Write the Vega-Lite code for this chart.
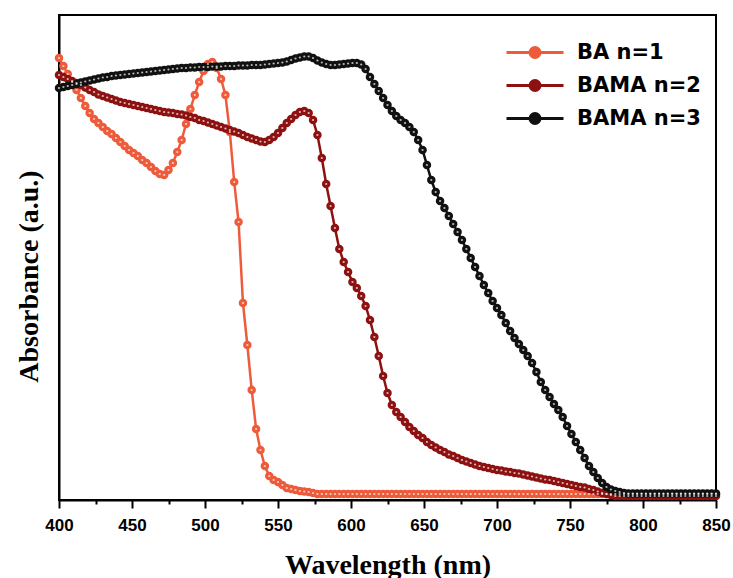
{
"$schema":"https://vega.github.io/schema/vega-lite/v6.json",
"width":657,"height":485,"autosize":"none",
"padding":{"left":59,"top":15,"right":17,"bottom":78},
"background":"white",
"config":{"view":{"stroke":"black","strokeWidth":2}},
"data":{"values":[
{"s":"BA n=1","x":400,"y":4.42},{"s":"BA n=1","x":403,"y":4.34},{"s":"BA n=1","x":406,"y":4.26},{"s":"BA n=1","x":409,"y":4.18},{"s":"BA n=1","x":412,"y":4.10},{"s":"BA n=1","x":415,"y":4.02},{"s":"BA n=1","x":418,"y":3.94},{"s":"BA n=1","x":421,"y":3.87},{"s":"BA n=1","x":424,"y":3.81},{"s":"BA n=1","x":427,"y":3.77},{"s":"BA n=1","x":430,"y":3.73},{"s":"BA n=1","x":433,"y":3.69},{"s":"BA n=1","x":436,"y":3.66},{"s":"BA n=1","x":439,"y":3.62},{"s":"BA n=1","x":442,"y":3.58},{"s":"BA n=1","x":445,"y":3.54},{"s":"BA n=1","x":448,"y":3.50},{"s":"BA n=1","x":451,"y":3.47},{"s":"BA n=1","x":454,"y":3.44},{"s":"BA n=1","x":457,"y":3.40},{"s":"BA n=1","x":460,"y":3.37},{"s":"BA n=1","x":463,"y":3.33},{"s":"BA n=1","x":466,"y":3.29},{"s":"BA n=1","x":469,"y":3.26},{"s":"BA n=1","x":472,"y":3.25},{"s":"BA n=1","x":475,"y":3.30},{"s":"BA n=1","x":478,"y":3.37},{"s":"BA n=1","x":481,"y":3.48},{"s":"BA n=1","x":484,"y":3.60},{"s":"BA n=1","x":487,"y":3.76},{"s":"BA n=1","x":490,"y":3.91},{"s":"BA n=1","x":493,"y":4.05},{"s":"BA n=1","x":496,"y":4.18},{"s":"BA n=1","x":499,"y":4.29},{"s":"BA n=1","x":502,"y":4.36},{"s":"BA n=1","x":505,"y":4.38},{"s":"BA n=1","x":508,"y":4.32},{"s":"BA n=1","x":511,"y":4.21},{"s":"BA n=1","x":514,"y":4.05},{"s":"BA n=1","x":517,"y":3.68},{"s":"BA n=1","x":520,"y":3.18},{"s":"BA n=1","x":523,"y":2.78},{"s":"BA n=1","x":526,"y":1.97},{"s":"BA n=1","x":529,"y":1.55},{"s":"BA n=1","x":532,"y":1.10},{"s":"BA n=1","x":535,"y":0.71},{"s":"BA n=1","x":538,"y":0.50},{"s":"BA n=1","x":541,"y":0.34},{"s":"BA n=1","x":544,"y":0.24},{"s":"BA n=1","x":547,"y":0.20},{"s":"BA n=1","x":550,"y":0.18},{"s":"BA n=1","x":553,"y":0.15},{"s":"BA n=1","x":556,"y":0.12},{"s":"BA n=1","x":559,"y":0.11},{"s":"BA n=1","x":562,"y":0.10},{"s":"BA n=1","x":565,"y":0.09},{"s":"BA n=1","x":568,"y":0.085},{"s":"BA n=1","x":571,"y":0.08},{"s":"BA n=1","x":574,"y":0.07},
{"s":"BA n=1","x":577,"y":0.06},{"s":"BA n=1","x":580,"y":0.06},{"s":"BA n=1","x":583,"y":0.06},{"s":"BA n=1","x":586,"y":0.06},{"s":"BA n=1","x":589,"y":0.06},{"s":"BA n=1","x":592,"y":0.06},{"s":"BA n=1","x":595,"y":0.06},{"s":"BA n=1","x":598,"y":0.06},{"s":"BA n=1","x":601,"y":0.06},{"s":"BA n=1","x":604,"y":0.06},{"s":"BA n=1","x":607,"y":0.06},{"s":"BA n=1","x":610,"y":0.06},{"s":"BA n=1","x":613,"y":0.06},{"s":"BA n=1","x":616,"y":0.06},{"s":"BA n=1","x":619,"y":0.06},{"s":"BA n=1","x":622,"y":0.06},{"s":"BA n=1","x":625,"y":0.06},{"s":"BA n=1","x":628,"y":0.06},{"s":"BA n=1","x":631,"y":0.06},{"s":"BA n=1","x":634,"y":0.06},{"s":"BA n=1","x":637,"y":0.06},{"s":"BA n=1","x":640,"y":0.06},{"s":"BA n=1","x":643,"y":0.06},{"s":"BA n=1","x":646,"y":0.06},{"s":"BA n=1","x":649,"y":0.06},{"s":"BA n=1","x":652,"y":0.06},{"s":"BA n=1","x":655,"y":0.06},{"s":"BA n=1","x":658,"y":0.06},{"s":"BA n=1","x":661,"y":0.06},{"s":"BA n=1","x":664,"y":0.06},{"s":"BA n=1","x":667,"y":0.06},{"s":"BA n=1","x":670,"y":0.06},{"s":"BA n=1","x":673,"y":0.06},{"s":"BA n=1","x":676,"y":0.06},{"s":"BA n=1","x":679,"y":0.06},{"s":"BA n=1","x":682,"y":0.06},{"s":"BA n=1","x":685,"y":0.06},{"s":"BA n=1","x":688,"y":0.06},{"s":"BA n=1","x":691,"y":0.06},{"s":"BA n=1","x":694,"y":0.06},{"s":"BA n=1","x":697,"y":0.06},{"s":"BA n=1","x":700,"y":0.06},{"s":"BA n=1","x":703,"y":0.06},{"s":"BA n=1","x":706,"y":0.06},{"s":"BA n=1","x":709,"y":0.06},{"s":"BA n=1","x":712,"y":0.06},{"s":"BA n=1","x":715,"y":0.06},{"s":"BA n=1","x":718,"y":0.06},{"s":"BA n=1","x":721,"y":0.06},{"s":"BA n=1","x":724,"y":0.06},{"s":"BA n=1","x":727,"y":0.06},{"s":"BA n=1","x":730,"y":0.06},{"s":"BA n=1","x":733,"y":0.06},{"s":"BA n=1","x":736,"y":0.06},{"s":"BA n=1","x":739,"y":0.06},{"s":"BA n=1","x":742,"y":0.06},{"s":"BA n=1","x":745,"y":0.06},{"s":"BA n=1","x":748,"y":0.06},{"s":"BA n=1","x":751,"y":0.06},{"s":"BA n=1","x":754,"y":0.06},{"s":"BA n=1","x":757,"y":0.06},{"s":"BA n=1","x":760,"y":0.06},{"s":"BA n=1","x":763,"y":0.06},{"s":"BA n=1","x":766,"y":0.06},{"s":"BA n=1","x":769,"y":0.06},{"s":"BA n=1","x":772,"y":0.06},{"s":"BA n=1","x":775,"y":0.06},{"s":"BA n=1","x":778,"y":0.06},{"s":"BA n=1","x":781,"y":0.06},{"s":"BA n=1","x":784,"y":0.06},{"s":"BA n=1","x":787,"y":0.06},{"s":"BA n=1","x":790,"y":0.06},{"s":"BA n=1","x":793,"y":0.06},{"s":"BA n=1","x":796,"y":0.06},{"s":"BA n=1","x":799,"y":0.06},{"s":"BA n=1","x":802,"y":0.06},{"s":"BA n=1","x":805,"y":0.06},{"s":"BA n=1","x":808,"y":0.06},{"s":"BA n=1","x":811,"y":0.06},{"s":"BA n=1","x":814,"y":0.06},{"s":"BA n=1","x":817,"y":0.06},{"s":"BA n=1","x":820,"y":0.06},{"s":"BA n=1","x":823,"y":0.06},{"s":"BA n=1","x":826,"y":0.06},{"s":"BA n=1","x":829,"y":0.06},{"s":"BA n=1","x":832,"y":0.06},{"s":"BA n=1","x":835,"y":0.06},{"s":"BA n=1","x":838,"y":0.06},{"s":"BA n=1","x":841,"y":0.06},{"s":"BA n=1","x":844,"y":0.06},{"s":"BA n=1","x":847,"y":0.06},{"s":"BA n=1","x":850,"y":0.06},
{"s":"BAMA n=2","x":400,"y":4.25},{"s":"BAMA n=2","x":403,"y":4.23},{"s":"BAMA n=2","x":406,"y":4.21},{"s":"BAMA n=2","x":409,"y":4.19},{"s":"BAMA n=2","x":412,"y":4.17},{"s":"BAMA n=2","x":415,"y":4.15},{"s":"BAMA n=2","x":418,"y":4.125},{"s":"BAMA n=2","x":421,"y":4.10},{"s":"BAMA n=2","x":424,"y":4.08},{"s":"BAMA n=2","x":427,"y":4.055},{"s":"BAMA n=2","x":430,"y":4.04},{"s":"BAMA n=2","x":433,"y":4.025},{"s":"BAMA n=2","x":436,"y":4.01},{"s":"BAMA n=2","x":439,"y":3.995},{"s":"BAMA n=2","x":442,"y":3.98},{"s":"BAMA n=2","x":445,"y":3.97},{"s":"BAMA n=2","x":448,"y":3.96},{"s":"BAMA n=2","x":451,"y":3.95},{"s":"BAMA n=2","x":454,"y":3.94},{"s":"BAMA n=2","x":457,"y":3.93},{"s":"BAMA n=2","x":460,"y":3.92},{"s":"BAMA n=2","x":463,"y":3.91},{"s":"BAMA n=2","x":466,"y":3.90},{"s":"BAMA n=2","x":469,"y":3.89},{"s":"BAMA n=2","x":472,"y":3.88},{"s":"BAMA n=2","x":475,"y":3.875},{"s":"BAMA n=2","x":478,"y":3.87},{"s":"BAMA n=2","x":481,"y":3.86},{"s":"BAMA n=2","x":484,"y":3.855},{"s":"BAMA n=2","x":487,"y":3.845},{"s":"BAMA n=2","x":490,"y":3.83},{"s":"BAMA n=2","x":493,"y":3.82},{"s":"BAMA n=2","x":496,"y":3.80},{"s":"BAMA n=2","x":499,"y":3.79},{"s":"BAMA n=2","x":502,"y":3.775},{"s":"BAMA n=2","x":505,"y":3.76},{"s":"BAMA n=2","x":508,"y":3.745},{"s":"BAMA n=2","x":511,"y":3.73},{"s":"BAMA n=2","x":514,"y":3.715},{"s":"BAMA n=2","x":517,"y":3.70},{"s":"BAMA n=2","x":520,"y":3.685},{"s":"BAMA n=2","x":523,"y":3.67},{"s":"BAMA n=2","x":526,"y":3.65},{"s":"BAMA n=2","x":529,"y":3.63},{"s":"BAMA n=2","x":532,"y":3.615},{"s":"BAMA n=2","x":535,"y":3.60},{"s":"BAMA n=2","x":538,"y":3.585},{"s":"BAMA n=2","x":541,"y":3.58},{"s":"BAMA n=2","x":544,"y":3.60},{"s":"BAMA n=2","x":547,"y":3.63},{"s":"BAMA n=2","x":550,"y":3.67},{"s":"BAMA n=2","x":553,"y":3.72},{"s":"BAMA n=2","x":556,"y":3.77},{"s":"BAMA n=2","x":559,"y":3.81},{"s":"BAMA n=2","x":562,"y":3.85},{"s":"BAMA n=2","x":565,"y":3.88},{"s":"BAMA n=2","x":568,"y":3.89},{"s":"BAMA n=2","x":571,"y":3.87},{"s":"BAMA n=2","x":574,"y":3.80},{"s":"BAMA n=2","x":577,"y":3.65},{"s":"BAMA n=2","x":580,"y":3.42},{"s":"BAMA n=2","x":583,"y":3.16},{"s":"BAMA n=2","x":586,"y":2.94},{"s":"BAMA n=2","x":589,"y":2.72},{"s":"BAMA n=2","x":592,"y":2.51},{"s":"BAMA n=2","x":595,"y":2.38},{"s":"BAMA n=2","x":598,"y":2.28},{"s":"BAMA n=2","x":601,"y":2.18},{"s":"BAMA n=2","x":604,"y":2.12},{"s":"BAMA n=2","x":607,"y":2.04},{"s":"BAMA n=2","x":610,"y":1.94},{"s":"BAMA n=2","x":613,"y":1.80},{"s":"BAMA n=2","x":616,"y":1.63},{"s":"BAMA n=2","x":619,"y":1.44},{"s":"BAMA n=2","x":622,"y":1.24},{"s":"BAMA n=2","x":625,"y":1.07},{"s":"BAMA n=2","x":628,"y":0.95},{"s":"BAMA n=2","x":631,"y":0.88},{"s":"BAMA n=2","x":634,"y":0.83},{"s":"BAMA n=2","x":637,"y":0.78},{"s":"BAMA n=2","x":640,"y":0.73},{"s":"BAMA n=2","x":643,"y":0.69},{"s":"BAMA n=2","x":646,"y":0.65},{"s":"BAMA n=2","x":649,"y":0.62},{"s":"BAMA n=2","x":652,"y":0.58},{"s":"BAMA n=2","x":655,"y":0.55},{"s":"BAMA n=2","x":658,"y":0.525},{"s":"BAMA n=2","x":661,"y":0.50},{"s":"BAMA n=2","x":664,"y":0.48},{"s":"BAMA n=2","x":667,"y":0.455},{"s":"BAMA n=2","x":670,"y":0.44},{"s":"BAMA n=2","x":673,"y":0.42},{"s":"BAMA n=2","x":676,"y":0.40},{"s":"BAMA n=2","x":679,"y":0.385},{"s":"BAMA n=2","x":682,"y":0.37},{"s":"BAMA n=2","x":685,"y":0.355},{"s":"BAMA n=2","x":688,"y":0.34},{"s":"BAMA n=2","x":691,"y":0.33},{"s":"BAMA n=2","x":694,"y":0.32},{"s":"BAMA n=2","x":697,"y":0.31},{"s":"BAMA n=2","x":700,"y":0.30},{"s":"BAMA n=2","x":703,"y":0.295},{"s":"BAMA n=2","x":706,"y":0.285},{"s":"BAMA n=2","x":709,"y":0.28},{"s":"BAMA n=2","x":712,"y":0.27},{"s":"BAMA n=2","x":715,"y":0.265},{"s":"BAMA n=2","x":718,"y":0.255},{"s":"BAMA n=2","x":721,"y":0.245},{"s":"BAMA n=2","x":724,"y":0.235},{"s":"BAMA n=2","x":727,"y":0.225},{"s":"BAMA n=2","x":730,"y":0.215},{"s":"BAMA n=2","x":733,"y":0.205},{"s":"BAMA n=2","x":736,"y":0.20},{"s":"BAMA n=2","x":739,"y":0.19},{"s":"BAMA n=2","x":742,"y":0.18},{"s":"BAMA n=2","x":745,"y":0.17},{"s":"BAMA n=2","x":748,"y":0.16},{"s":"BAMA n=2","x":751,"y":0.15},{"s":"BAMA n=2","x":754,"y":0.14},{"s":"BAMA n=2","x":757,"y":0.13},{"s":"BAMA n=2","x":760,"y":0.125},{"s":"BAMA n=2","x":763,"y":0.11},{"s":"BAMA n=2","x":766,"y":0.10},{"s":"BAMA n=2","x":769,"y":0.085},{"s":"BAMA n=2","x":772,"y":0.07},{"s":"BAMA n=2","x":775,"y":0.06},{"s":"BAMA n=2","x":778,"y":0.05},{"s":"BAMA n=2","x":781,"y":0.04},{"s":"BAMA n=2","x":784,"y":0.04},{"s":"BAMA n=2","x":787,"y":0.04},{"s":"BAMA n=2","x":790,"y":0.04},{"s":"BAMA n=2","x":793,"y":0.04},{"s":"BAMA n=2","x":796,"y":0.04},{"s":"BAMA n=2","x":799,"y":0.04},{"s":"BAMA n=2","x":802,"y":0.04},{"s":"BAMA n=2","x":805,"y":0.04},{"s":"BAMA n=2","x":808,"y":0.04},{"s":"BAMA n=2","x":811,"y":0.04},{"s":"BAMA n=2","x":814,"y":0.04},{"s":"BAMA n=2","x":817,"y":0.04},{"s":"BAMA n=2","x":820,"y":0.04},{"s":"BAMA n=2","x":823,"y":0.04},{"s":"BAMA n=2","x":826,"y":0.04},{"s":"BAMA n=2","x":829,"y":0.04},{"s":"BAMA n=2","x":832,"y":0.04},{"s":"BAMA n=2","x":835,"y":0.04},{"s":"BAMA n=2","x":838,"y":0.04},{"s":"BAMA n=2","x":841,"y":0.04},{"s":"BAMA n=2","x":844,"y":0.04},{"s":"BAMA n=2","x":847,"y":0.04},{"s":"BAMA n=2","x":850,"y":0.04},
{"s":"BAMA n=3","x":400,"y":4.12},{"s":"BAMA n=3","x":403,"y":4.13},{"s":"BAMA n=3","x":406,"y":4.14},{"s":"BAMA n=3","x":409,"y":4.15},{"s":"BAMA n=3","x":412,"y":4.16},{"s":"BAMA n=3","x":415,"y":4.175},{"s":"BAMA n=3","x":418,"y":4.185},{"s":"BAMA n=3","x":421,"y":4.195},{"s":"BAMA n=3","x":424,"y":4.205},{"s":"BAMA n=3","x":427,"y":4.215},{"s":"BAMA n=3","x":430,"y":4.225},{"s":"BAMA n=3","x":433,"y":4.23},{"s":"BAMA n=3","x":436,"y":4.24},{"s":"BAMA n=3","x":439,"y":4.245},{"s":"BAMA n=3","x":442,"y":4.25},{"s":"BAMA n=3","x":445,"y":4.255},{"s":"BAMA n=3","x":448,"y":4.26},{"s":"BAMA n=3","x":451,"y":4.265},{"s":"BAMA n=3","x":454,"y":4.27},{"s":"BAMA n=3","x":457,"y":4.275},{"s":"BAMA n=3","x":460,"y":4.28},{"s":"BAMA n=3","x":463,"y":4.285},{"s":"BAMA n=3","x":466,"y":4.29},{"s":"BAMA n=3","x":469,"y":4.295},{"s":"BAMA n=3","x":472,"y":4.30},{"s":"BAMA n=3","x":475,"y":4.305},{"s":"BAMA n=3","x":478,"y":4.31},{"s":"BAMA n=3","x":481,"y":4.315},{"s":"BAMA n=3","x":484,"y":4.32},{"s":"BAMA n=3","x":487,"y":4.32},{"s":"BAMA n=3","x":490,"y":4.325},{"s":"BAMA n=3","x":493,"y":4.325},{"s":"BAMA n=3","x":496,"y":4.33},{"s":"BAMA n=3","x":499,"y":4.33},{"s":"BAMA n=3","x":502,"y":4.33},{"s":"BAMA n=3","x":505,"y":4.335},{"s":"BAMA n=3","x":508,"y":4.335},{"s":"BAMA n=3","x":511,"y":4.335},{"s":"BAMA n=3","x":514,"y":4.34},{"s":"BAMA n=3","x":517,"y":4.34},{"s":"BAMA n=3","x":520,"y":4.34},{"s":"BAMA n=3","x":523,"y":4.345},{"s":"BAMA n=3","x":526,"y":4.345},{"s":"BAMA n=3","x":529,"y":4.345},{"s":"BAMA n=3","x":532,"y":4.35},{"s":"BAMA n=3","x":535,"y":4.35},{"s":"BAMA n=3","x":538,"y":4.35},{"s":"BAMA n=3","x":541,"y":4.355},{"s":"BAMA n=3","x":544,"y":4.36},{"s":"BAMA n=3","x":547,"y":4.365},{"s":"BAMA n=3","x":550,"y":4.37},{"s":"BAMA n=3","x":553,"y":4.375},{"s":"BAMA n=3","x":556,"y":4.385},{"s":"BAMA n=3","x":559,"y":4.40},{"s":"BAMA n=3","x":562,"y":4.415},{"s":"BAMA n=3","x":565,"y":4.425},{"s":"BAMA n=3","x":568,"y":4.435},{"s":"BAMA n=3","x":571,"y":4.435},{"s":"BAMA n=3","x":574,"y":4.42},{"s":"BAMA n=3","x":577,"y":4.395},{"s":"BAMA n=3","x":580,"y":4.375},{"s":"BAMA n=3","x":583,"y":4.36},{"s":"BAMA n=3","x":586,"y":4.35},{"s":"BAMA n=3","x":589,"y":4.35},{"s":"BAMA n=3","x":592,"y":4.355},{"s":"BAMA n=3","x":595,"y":4.36},{"s":"BAMA n=3","x":598,"y":4.365},{"s":"BAMA n=3","x":601,"y":4.37},{"s":"BAMA n=3","x":604,"y":4.37},{"s":"BAMA n=3","x":607,"y":4.355},{"s":"BAMA n=3","x":610,"y":4.31},{"s":"BAMA n=3","x":613,"y":4.23},{"s":"BAMA n=3","x":616,"y":4.16},{"s":"BAMA n=3","x":619,"y":4.09},{"s":"BAMA n=3","x":622,"y":4.02},{"s":"BAMA n=3","x":625,"y":3.95},{"s":"BAMA n=3","x":628,"y":3.89},{"s":"BAMA n=3","x":631,"y":3.84},{"s":"BAMA n=3","x":634,"y":3.80},{"s":"BAMA n=3","x":637,"y":3.77},{"s":"BAMA n=3","x":640,"y":3.73},{"s":"BAMA n=3","x":643,"y":3.68},{"s":"BAMA n=3","x":646,"y":3.60},{"s":"BAMA n=3","x":649,"y":3.50},{"s":"BAMA n=3","x":652,"y":3.35},{"s":"BAMA n=3","x":655,"y":3.20},{"s":"BAMA n=3","x":658,"y":3.08},{"s":"BAMA n=3","x":661,"y":2.99},{"s":"BAMA n=3","x":664,"y":2.92},{"s":"BAMA n=3","x":667,"y":2.84},{"s":"BAMA n=3","x":670,"y":2.76},{"s":"BAMA n=3","x":673,"y":2.68},{"s":"BAMA n=3","x":676,"y":2.60},{"s":"BAMA n=3","x":679,"y":2.51},{"s":"BAMA n=3","x":682,"y":2.42},{"s":"BAMA n=3","x":685,"y":2.33},{"s":"BAMA n=3","x":688,"y":2.24},{"s":"BAMA n=3","x":691,"y":2.15},{"s":"BAMA n=3","x":694,"y":2.07},{"s":"BAMA n=3","x":697,"y":1.99},{"s":"BAMA n=3","x":700,"y":1.92},{"s":"BAMA n=3","x":703,"y":1.85},{"s":"BAMA n=3","x":706,"y":1.77},{"s":"BAMA n=3","x":709,"y":1.69},{"s":"BAMA n=3","x":712,"y":1.62},{"s":"BAMA n=3","x":715,"y":1.56},{"s":"BAMA n=3","x":718,"y":1.50},{"s":"BAMA n=3","x":721,"y":1.44},{"s":"BAMA n=3","x":724,"y":1.37},{"s":"BAMA n=3","x":727,"y":1.28},{"s":"BAMA n=3","x":730,"y":1.18},{"s":"BAMA n=3","x":733,"y":1.10},{"s":"BAMA n=3","x":736,"y":1.03},{"s":"BAMA n=3","x":739,"y":0.96},{"s":"BAMA n=3","x":742,"y":0.90},{"s":"BAMA n=3","x":745,"y":0.83},{"s":"BAMA n=3","x":748,"y":0.74},{"s":"BAMA n=3","x":751,"y":0.66},{"s":"BAMA n=3","x":754,"y":0.58},{"s":"BAMA n=3","x":757,"y":0.50},{"s":"BAMA n=3","x":760,"y":0.42},{"s":"BAMA n=3","x":763,"y":0.34},{"s":"BAMA n=3","x":766,"y":0.28},{"s":"BAMA n=3","x":769,"y":0.22},{"s":"BAMA n=3","x":772,"y":0.17},{"s":"BAMA n=3","x":775,"y":0.13},{"s":"BAMA n=3","x":778,"y":0.105},{"s":"BAMA n=3","x":781,"y":0.09},{"s":"BAMA n=3","x":784,"y":0.08},{"s":"BAMA n=3","x":787,"y":0.07},{"s":"BAMA n=3","x":790,"y":0.065},{"s":"BAMA n=3","x":793,"y":0.065},{"s":"BAMA n=3","x":796,"y":0.065},{"s":"BAMA n=3","x":799,"y":0.065},{"s":"BAMA n=3","x":802,"y":0.065},{"s":"BAMA n=3","x":805,"y":0.065},{"s":"BAMA n=3","x":808,"y":0.065},{"s":"BAMA n=3","x":811,"y":0.065},{"s":"BAMA n=3","x":814,"y":0.065},{"s":"BAMA n=3","x":817,"y":0.065},{"s":"BAMA n=3","x":820,"y":0.065},{"s":"BAMA n=3","x":823,"y":0.065},{"s":"BAMA n=3","x":826,"y":0.065},{"s":"BAMA n=3","x":829,"y":0.065},{"s":"BAMA n=3","x":832,"y":0.065},{"s":"BAMA n=3","x":835,"y":0.065},{"s":"BAMA n=3","x":838,"y":0.065},{"s":"BAMA n=3","x":841,"y":0.065},{"s":"BAMA n=3","x":844,"y":0.065},{"s":"BAMA n=3","x":847,"y":0.065},{"s":"BAMA n=3","x":850,"y":0.065}
]},
"layer":[
{"encoding":{
"x":{"field":"x","type":"quantitative","scale":{"domain":[400,850],"nice":false},
"axis":{"orient":"bottom","values":[400,450,500,550,600,650,700,750,800,850],"grid":false,"tickSize":8,"tickWidth":2,"tickColor":"black","domainColor":"black","domainWidth":2,"labelFont":"Liberation Sans","labelFontWeight":"bold","labelFontSize":17,"labelColor":"black","labelBaseline":"alphabetic","labelPadding":22,"labelFlush":false,"title":"Wavelength (nm)","titleFont":"Liberation Serif","titleFontSize":28,"titleFontWeight":"bold","titleColor":"black","titleBaseline":"alphabetic","titleY":73}},
"y":{"field":"y","type":"quantitative","scale":{"domain":[0,4.85],"nice":false,"zero":false},
"axis":{"ticks":false,"labels":false,"grid":false,"domainColor":"black","domainWidth":2,"title":"Absorbance (a.u.)","titleFont":"Liberation Serif","titleFontSize":28,"titleFontWeight":"bold","titleColor":"black","titleBaseline":"alphabetic","titleX":-22,"titleY":261}}},
"layer":[
{"mark":{"type":"line","strokeWidth":2.5},
"encoding":{"color":{"field":"s","type":"nominal","scale":{"domain":["BA n=1","BAMA n=2","BAMA n=3"],"range":["#EE5B3B","#8E1111","#111111"]},
"legend":{"title":null,"orient":"none","legendX":446,"legendY":21,"padding":0,"rowPadding":0,"clipHeight":33,
"symbolType":"M-1,0L1,0M0.175,0A0.175,0.175,0,1,1,-0.175,0A0.175,0.175,0,1,1,0.175,0Z",
"symbolSize":3249,"symbolStrokeWidth":3,"labelOffset":12,"labelFont":"DejaVu Sans","labelFontWeight":"bold","labelFontSize":21,"labelColor":"black","labelLimit":300,
"encode":{"symbols":{"update":{"stroke":{"signal":"scale('color', datum.value)"},"fill":{"signal":"scale('color', datum.value)"},"strokeWidth":{"value":3},"opacity":{"value":1}}}}}}}},
{"mark":{"type":"point","shape":"circle","filled":true,"size":72,"opacity":1},
"encoding":{"color":{"field":"s","type":"nominal","legend":null}}},
{"mark":{"type":"point","shape":"circle","filled":true,"size":5,"color":"white","opacity":0.7}}
]},
{"mark":{"type":"point","opacity":0},
"encoding":{
"x":{"field":"x","type":"quantitative","axis":{"orient":"bottom","values":[425,475,525,575,625,675,725,775,825],"labels":false,"domain":false,"grid":false,"tickSize":4,"tickWidth":2,"tickColor":"black","title":null}},
"y":{"field":"y","type":"quantitative"}}}
],
"resolve":{"axis":{"x":"independent"}}
}
